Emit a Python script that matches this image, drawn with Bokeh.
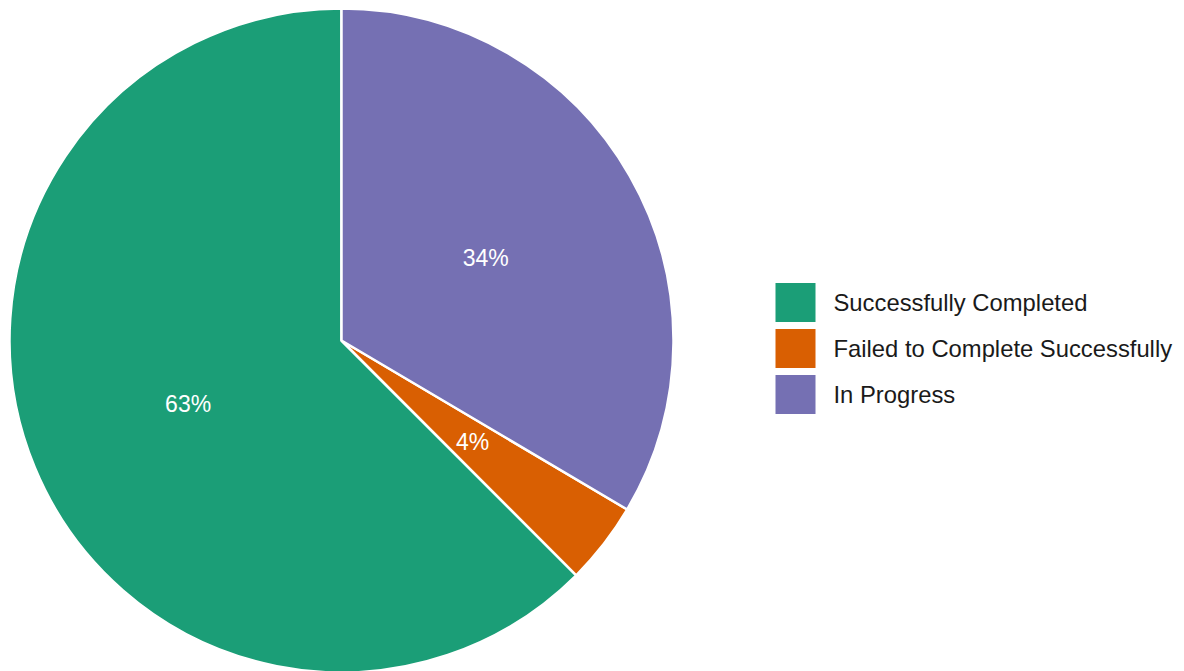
import math
from bokeh.plotting import figure
from bokeh.models import Range1d, ColumnDataSource
from bokeh.core.properties import value
from bokeh.embed import file_html
from bokeh.resources import INLINE

# ---- data ----
categories = ["Successfully Completed", "Failed to Complete Successfully", "In Progress"]
counts = [125, 8, 67]
colors = ["#1b9e77", "#d95f02", "#7570b3"]

# ---- layout (pixel units: 1 data unit == 1 px) ----
W, H = 1184, 671
CX, CY, R = 341, H - 340, 332
FONT = "Liberation Sans"

p = figure(width=W, height=H, x_range=Range1d(0, W), y_range=Range1d(0, H),
           output_backend="svg", toolbar_location=None,
           x_axis_type=None, y_axis_type=None, min_border=0)
p.outline_line_color = None
p.background_fill_color = "white"
p.border_fill_color = "white"

total = sum(counts)
starts, ends, mids = [], [], []
a = math.pi / 2
for c in counts:
    s = a
    a += 2 * math.pi * c / total
    starts.append(s)
    ends.append(a)
    mids.append((s + a) / 2)
labels = [f"{math.floor(100 * c / total + 0.5)}%" for c in counts]

src = ColumnDataSource(dict(start=starts, end=ends, color=colors, cat=categories))
p.wedge(x=CX, y=CY, radius=R, start_angle="start", end_angle="end",
        fill_color="color", line_color="white", line_width=2.5, source=src)

lr = 0.5 * R
p.text(x=[CX + lr * math.cos(m) for m in mids],
       y=[CY + lr * math.sin(m) for m in mids],
       text=labels, text_color="white", text_font=value(FONT),
       text_font_size="23px", text_align="center", text_baseline="middle")

# ---- legend ----
ly = [H - 302 - 46 * i for i in range(len(categories))]
p.rect(x=795, y=ly, width=40, height=39, fill_color=colors, line_color=None)
p.text(x=833, y=ly, text=categories, text_color="#1a1a1a", text_font=value(FONT),
       text_font_size="23.8px", text_align="left", text_baseline="middle")

open("out.html", "w").write(file_html(p, INLINE))
